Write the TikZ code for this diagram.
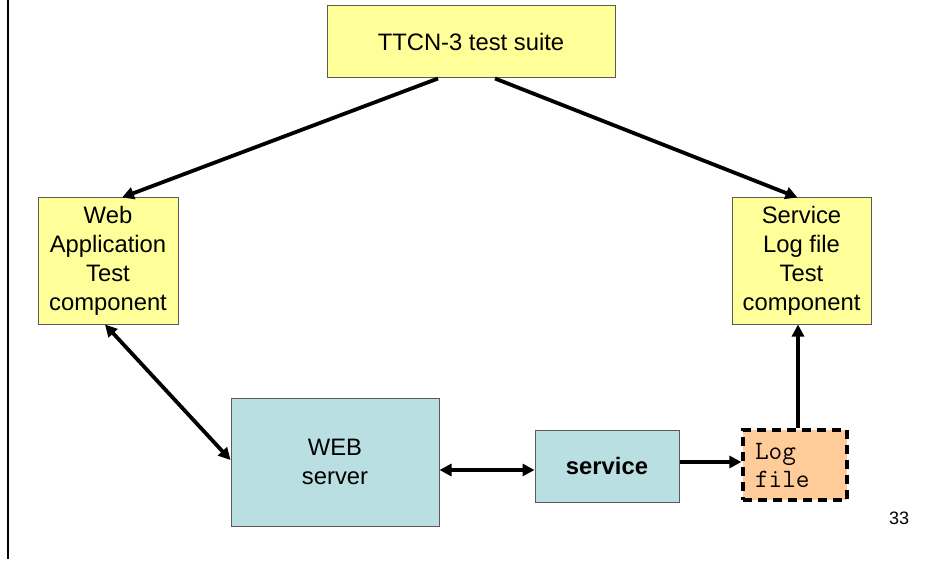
\documentclass[tikz,border=0pt]{standalone}
\usepackage{fontspec}
\setmainfont{Liberation Sans}
\usetikzlibrary{arrows.meta}

\definecolor{paleyellow}{HTML}{FFFF99}
\definecolor{paleteal}{HTML}{BADFE3}
\definecolor{paleorange}{HTML}{FFCC99}
\definecolor{boxedge}{HTML}{5A5A5A}

\tikzset{
  body/.style={font=\fontsize{23.8pt}{29pt}\selectfont, align=center, inner sep=0pt},
  yellowbox/.style={body, draw=boxedge, line width=1pt, fill=paleyellow},
  tealbox/.style={body, draw=boxedge, line width=1pt, fill=paleteal},
  logbox/.style={draw=black, line width=3.2pt, dash pattern=on 9pt off 6pt,
    fill=paleorange, inner sep=0pt, align=left, text width=80pt,
    font=\ttfamily\fontsize{26.5pt}{28pt}\selectfont},
  tip/.tip={Triangle[length=12pt,width=12pt]},
  link/.style={line width=3.8pt, -tip},
  duallink/.style={line width=3.8pt, tip-tip}
}

\begin{document}
\begin{tikzpicture}[x=1pt, y=-1pt]
  \useasboundingbox (0,0) rectangle (952,561);

  % slide margin rule
  \draw[line width=2pt] (8,0) -- (8,559);

  % components
  \node[yellowbox, minimum width=288pt, minimum height=72pt] (suite) at (471,42) {TTCN-3 test suite};
  \node[yellowbox, minimum width=140pt, minimum height=126pt] (webtest) at (108,261)
    {Web\\Application\\Test\\component};
  \node[yellowbox, minimum width=139pt, minimum height=126pt] (logtest) at (801.5,261)
    {Service\\Log file\\Test\\component};
  \node[tealbox, minimum width=208pt, minimum height=128pt] (web) at (335,462) {WEB\\server};
  \node[tealbox, minimum width=144pt, minimum height=72pt, font=\fontsize{23.8pt}{29pt}\selectfont\bfseries]
    (service) at (607,466) {service};
  \node[logbox, minimum width=104pt, minimum height=70pt] (logfile) at (795,465) {Log\\file};

  % page number
  \node[font=\fontsize{18pt}{20pt}\selectfont, inner sep=0pt] (pagenum) at (899,518) {33};

  % connectors
  \draw[link] ([xshift=-33pt]suite.south) -- ([xshift=14pt]webtest.north);
  \draw[link] ([xshift=24pt]suite.south) -- ([xshift=-4pt]logtest.north);
  \draw[duallink] ([xshift=-3pt]webtest.south) -- ([yshift=2pt]web.west);
  \draw[duallink] ([yshift=-8pt]web.east) -- ([yshift=-8pt]web.east -| service.west);
  \draw[link] ([yshift=4pt]service.east) -- ([yshift=4pt]service.east -| logfile.west);
  \draw[link] ([xshift=3pt]logfile.north) -- ([xshift=3pt]logfile.north |- logtest.south);
\end{tikzpicture}
\end{document}
